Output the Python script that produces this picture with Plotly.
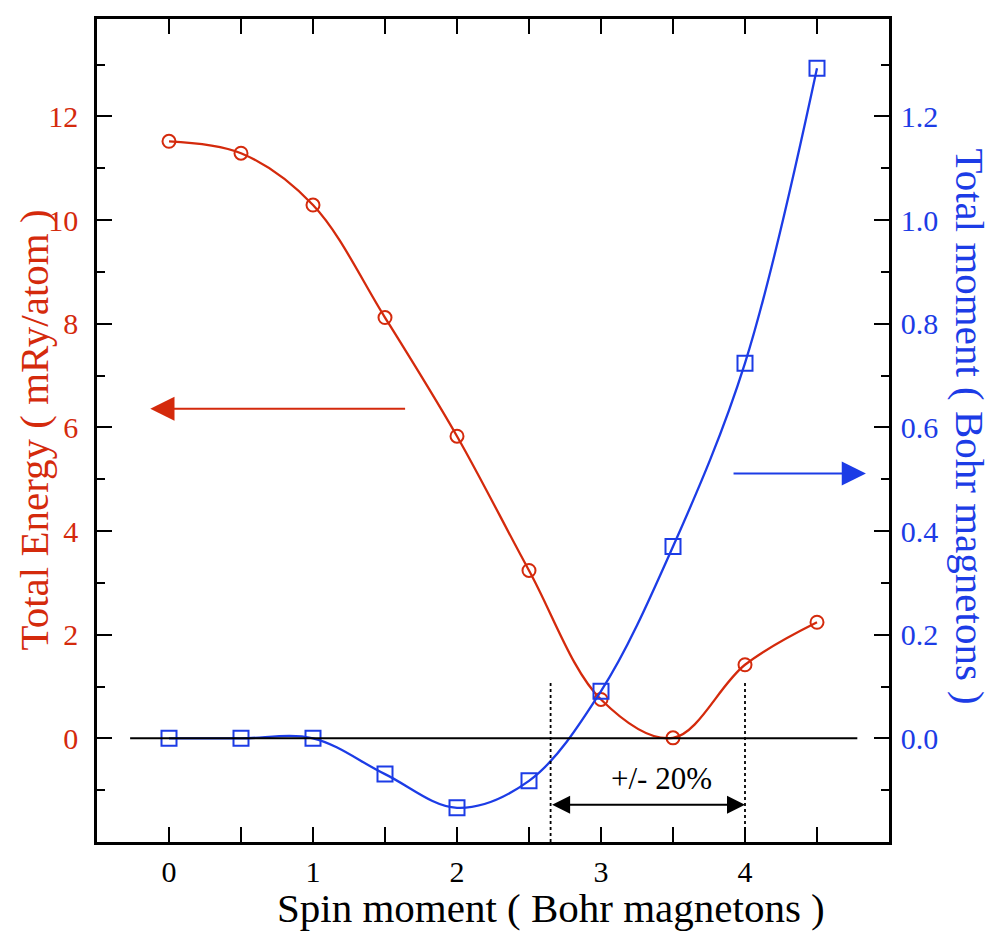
import plotly.graph_objects as go

# Data
spin_moment = [0.0, 0.5, 1.0, 1.5, 2.0, 2.5, 3.0, 3.5, 4.0, 4.5]
total_energy = [11.52, 11.29, 10.29, 8.12, 5.83, 3.24, 0.75, 0.01, 1.42, 2.24]
total_moment = [0.0, 0.0, 0.0, -0.069, -0.134, -0.082, 0.091, 0.37, 0.724, 1.293]

x_ticks = [0, 1, 2, 3, 4]
x_minor = [0.5, 1.5, 2.5, 3.5, 4.5]
e_ticks = [0, 2, 4, 6, 8, 10, 12]
e_minor = [-1, 1, 3, 5, 7, 9, 11, 13]
m_ticks = [0.0, 0.2, 0.4, 0.6, 0.8, 1.0, 1.2]
m_minor = [-0.1, 0.1, 0.3, 0.5, 0.7, 0.9, 1.1, 1.3]

RED = "#d42a0c"
BLUE = "#1c3ce6"
FONT = "Liberation Serif"

# page offset of the plot div (default body margin)
OFF = 8
W, H = 995 - OFF, 932 - OFF
ML, MR, MT, MB = 97 - OFF, 106, 16 - OFF, 90

fig = go.Figure()
fig.add_trace(go.Scatter(
    x=spin_moment, y=total_energy, mode="lines+markers",
    line=dict(color=RED, width=2.3, shape="spline"),
    marker=dict(symbol="circle-open", size=13, color=RED, line=dict(width=2)),
    yaxis="y", showlegend=False))
fig.add_trace(go.Scatter(
    x=spin_moment, y=total_moment, mode="lines+markers",
    line=dict(color=BLUE, width=2.3, shape="spline"),
    marker=dict(symbol="square-open", size=15, color=BLUE, line=dict(width=2)),
    yaxis="y2", showlegend=False))

axis_common = dict(showgrid=False, zeroline=False, showline=True, linecolor="black",
                   linewidth=2.5, ticks="inside", ticklen=15, tickwidth=2, tickcolor="black")
minor_common = dict(ticks="inside", ticklen=8, tickwidth=2, tickcolor="black")

fig.update_layout(
    width=W, height=H,
    margin=dict(l=ML, r=MR, t=MT, b=MB),
    paper_bgcolor="white", plot_bgcolor="white",
    font=dict(family=FONT, size=29, color="black"),
    xaxis=dict(range=[-0.5, 5.0], tickvals=x_ticks, mirror="allticks",
               minor=dict(tickvals=x_minor, **minor_common),
               ticklabelstandoff=1, tickfont=dict(size=30, color="black"), **axis_common),
    yaxis=dict(range=[-2.0, 13.88], tickvals=e_ticks,
               minor=dict(tickvals=e_minor, **minor_common),
               ticklabelstandoff=10, tickfont=dict(size=30, color=RED), **axis_common),
    yaxis2=dict(range=[-0.2, 1.388], tickvals=m_ticks, tickformat=".1f",
                overlaying="y", side="right",
                minor=dict(tickvals=m_minor, **minor_common),
                ticklabelstandoff=3, tickfont=dict(size=30, color=BLUE), **axis_common),
)

# zero reference line
fig.add_shape(type="line", x0=-0.27, x1=4.78, y0=0, y1=0, xref="x", yref="y",
              line=dict(color="black", width=2))
# dashed bounds
for xv in [2.65, 4.0]:
    fig.add_shape(type="line", x0=xv, x1=xv, y0=1.07, y1=-2.0, xref="x", yref="y",
                  line=dict(color="black", width=1.8, dash="dot"))

# double arrow +/- 20%
fig.add_annotation(x=4.0, y=-1.28, ax=2.65, ay=-1.28, xref="x", yref="y", axref="x", ayref="y",
                   text="", showarrow=True, arrowhead=2, arrowside="end+start",
                   arrowsize=1.8, arrowwidth=2, arrowcolor="black")
fig.add_annotation(x=3.42, y=-0.78, xref="x", yref="y", text="+/- 20%", showarrow=False,
                   xanchor="center", yanchor="middle",
                   font=dict(family=FONT, size=31, color="black"))

# red arrow pointing to left axis
fig.add_annotation(x=-0.13, y=6.36, ax=1.65, ay=6.36, xref="x", yref="y", axref="x", ayref="y",
                   text="", showarrow=True, arrowhead=2, arrowsize=2.2, arrowwidth=2.2, arrowcolor=RED)
# blue arrow pointing to right axis
fig.add_annotation(x=4.84, y=5.11, ax=3.91, ay=5.11, xref="x", yref="y", axref="x", ayref="y",
                   text="", showarrow=True, arrowhead=2, arrowsize=2.2, arrowwidth=2.2, arrowcolor=BLUE)

# axis titles, positioned in page pixels then converted to paper coordinates
pw, ph = W - ML - MR, H - MT - MB


def px(xp):
    return (xp - OFF - ML) / pw


def py(yp):
    return (H - MB - (yp - OFF)) / ph


fig.add_annotation(x=px(551), y=py(908), xref="paper", yref="paper",
                   xanchor="center", yanchor="middle",
                   text="Spin moment ( Bohr magnetons )",
                   showarrow=False, font=dict(family=FONT, size=41, color="black"))
fig.add_annotation(x=px(33), y=py(429), xref="paper", yref="paper",
                   xanchor="center", yanchor="middle",
                   text="Total Energy ( mRy/atom )", textangle=-90,
                   showarrow=False, font=dict(family=FONT, size=41, color=RED))
fig.add_annotation(x=px(970), y=py(425), xref="paper", yref="paper",
                   xanchor="center", yanchor="middle",
                   text="Total moment ( Bohr magnetons )", textangle=90,
                   showarrow=False, font=dict(family=FONT, size=41, color=BLUE))

fig.write_html("out.html")
